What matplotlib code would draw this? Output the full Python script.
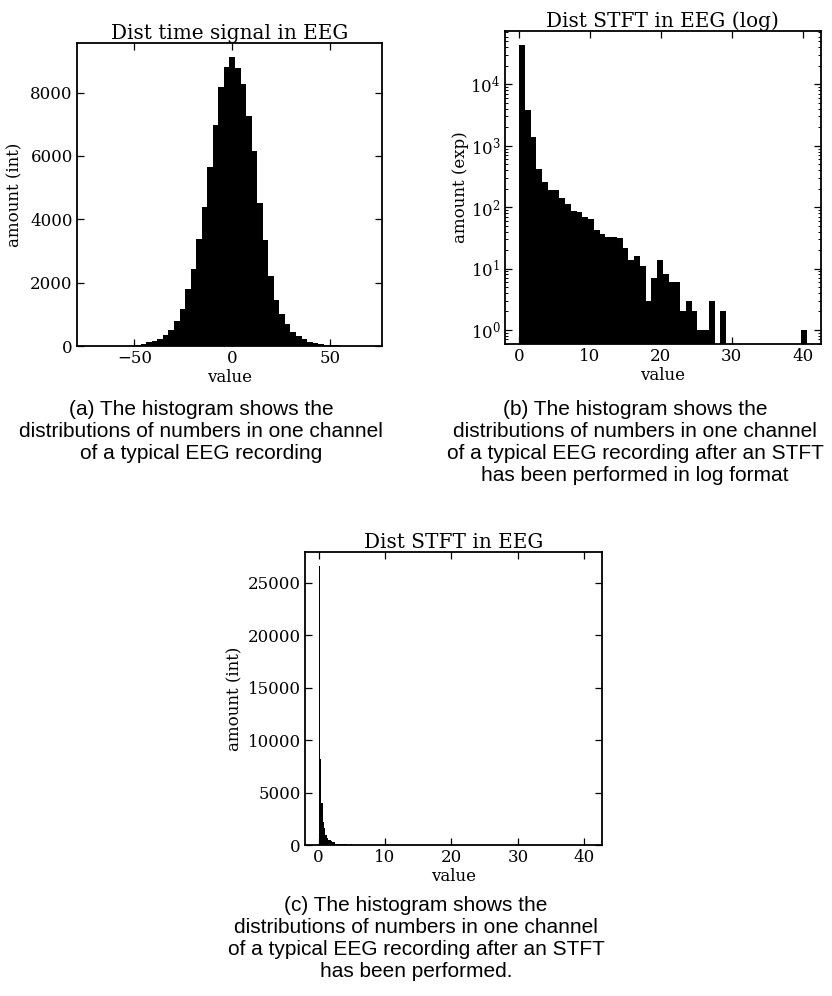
import numpy as np
import matplotlib
matplotlib.use("Agg")
import matplotlib.pyplot as plt

# histogram counts
eeg_range = (-72.3, 69.4)
eeg_counts = [1, 1, 1, 2, 3, 5, 8, 15, 28,
              53, 126, 165, 215, 347, 500, 785, 1170, 1800, 2430, 3370,
              4385, 5645, 6965, 8165, 8800, 9110,
              8790, 8280, 7275, 6145, 4530, 3338, 2203, 1446, 1025, 700,
              431, 330, 215, 126, 95, 63,
              45, 30, 20, 12, 8, 5, 3, 1]

stft_range = (0.0, 40.56)
stft_counts = [43000, 3780, 1390, 415, 255, 189, 189, 140, 112, 86,
               83, 69, 65, 42, 36, 33, 33, 32, 22, 14,
               16, 11, 3, 7, 14, 8, 6, 6, 2, 3,
               2, 1, 1, 3, 0, 2, 0, 0, 0, 0,
               0, 0, 0, 0, 0, 0, 0, 0, 0, 1]

# same data with 200 bins (only the first ones are visible)
stft_fine_head = [26650, 8250, 4030, 2160, 1610, 970, 700, 500, 480, 370,
                  300, 240, 130, 110, 95, 80, 70, 65, 62, 58,
                  52, 48, 46, 43, 50, 47, 46, 46, 38, 36,
                  34, 32, 31, 29, 27, 25, 23, 22, 21, 20]
stft_fine_counts = stft_fine_head + [0] * (199 - len(stft_fine_head)) + [1]

captions = [
    "(a) The histogram shows the\ndistributions of numbers in one channel\nof a typical EEG recording",
    "(b) The histogram shows the\ndistributions of numbers in one channel\nof a typical EEG recording after an STFT\nhas been performed in log format",
    "(c) The histogram shows the\ndistributions of numbers in one channel\nof a typical EEG recording after an STFT\nhas been performed.",
]

plt.rcParams['font.family'] = ['DejaVu Serif']
plt.rcParams['mathtext.fontset'] = 'dejavuserif'
plt.rcParams['font.size'] = 12
plt.rcParams['axes.linewidth'] = 1.3


def style(ax):
    ax.tick_params(which='both', direction='in', top=True, right=True, pad=3)
    ax.tick_params(which='major', length=5, width=0.9)
    ax.tick_params(which='minor', length=2.5, width=0.7)


fig = plt.figure(figsize=(8.32, 9.96), dpi=100)

# (a) time signal
ax1 = fig.add_axes([0.0925, 0.6526, 0.3666, 0.3042])
edges = np.linspace(eeg_range[0], eeg_range[1], len(eeg_counts) + 1)
ax1.hist(edges[:-1], bins=edges, weights=eeg_counts, color='black')
ax1.set_title("Dist time signal in EEG", pad=3)
ax1.set_xlabel("value", labelpad=1)
ax1.set_ylabel("amount (int)", labelpad=5)
ax1.set_yticks([0, 2000, 4000, 6000, 8000])
ax1.set_xticks([-50, 0, 50])
style(ax1)

# (b) STFT, log scale
ax2 = fig.add_axes([0.6066, 0.6546, 0.3802, 0.3143])
edges = np.linspace(stft_range[0], stft_range[1], len(stft_counts) + 1)
ax2.hist(edges[:-1], bins=edges, weights=stft_counts, color='black', log=True)
ax2.set_ylim(0.59, 74000)
ax2.set_xlim(-2.03, 42.59)
ax2.set_title("Dist STFT in EEG (log)", pad=3)
ax2.set_xlabel("value", labelpad=1)
ax2.set_ylabel("amount (exp)", labelpad=1)
ax2.set_xticks([0, 10, 20, 30, 40])
style(ax2)

# (c) STFT, linear
ax3 = fig.add_axes([0.3666, 0.1516, 0.3566, 0.2945])
edges = np.linspace(stft_range[0], stft_range[1], len(stft_fine_counts) + 1)
ax3.hist(edges[:-1], bins=edges, weights=stft_fine_counts, color='black')
ax3.set_xlim(-2.03, 42.59)
ax3.set_title("Dist STFT in EEG", pad=3)
ax3.set_xlabel("value", labelpad=1)
ax3.set_ylabel("amount (int)", labelpad=3)
ax3.set_xticks([0, 10, 20, 30, 40])
ax3.set_yticks([0, 5000, 10000, 15000, 20000, 25000])
style(ax3)

cap_kw = dict(ha='center', va='top', fontsize=15, family=['Liberation Sans'],
              multialignment='center', linespacing=1.2)
fig.text(201 / 832, 1 - 400 / 996, captions[0], **cap_kw)
fig.text(635 / 832, 1 - 400 / 996, captions[1], **cap_kw)
fig.text(416 / 832, 1 - 896 / 996, captions[2], **cap_kw)

fig.savefig("out.png", dpi=100)
